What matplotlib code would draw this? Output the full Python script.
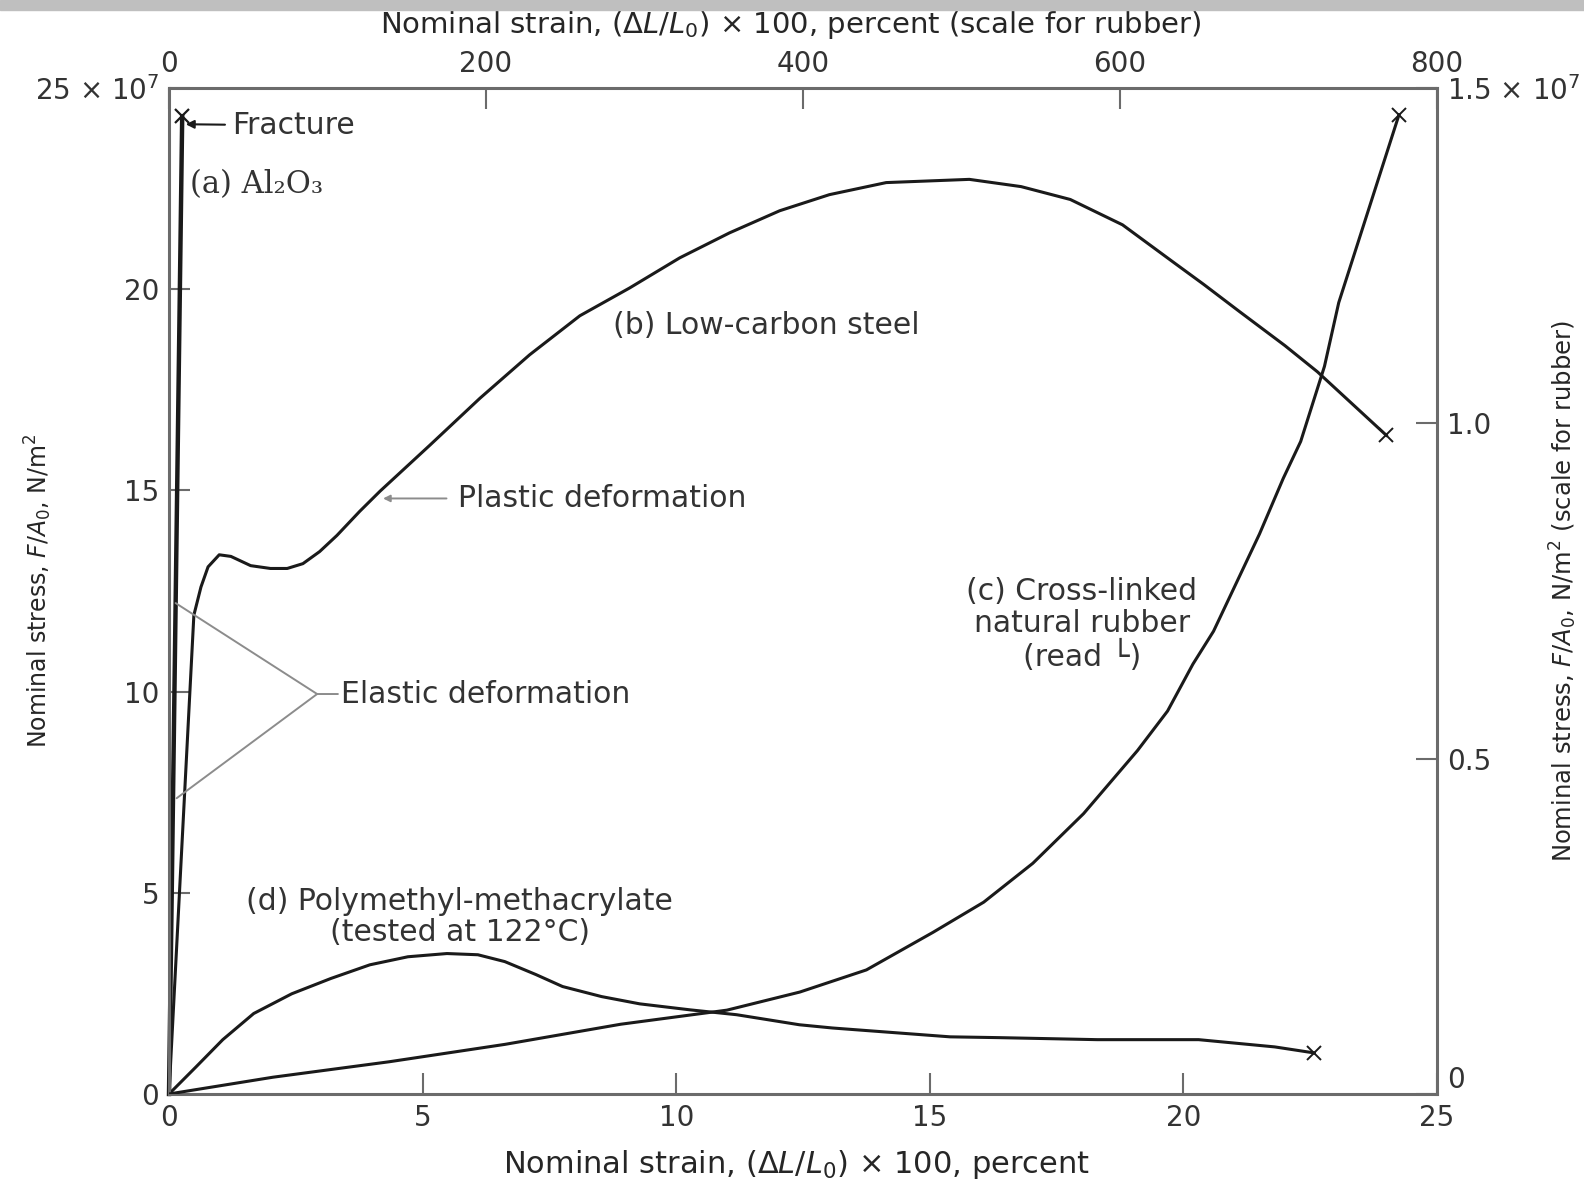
import matplotlib
matplotlib.use('Agg')
import matplotlib.pyplot as plt
from matplotlib.patches import Rectangle

# (a) Al2O3, bottom / left scales
al2o3_strain = [0, 0.26]
al2o3_stress = [0, 24.3]

# (b) low-carbon steel, bottom / left scales
steel_strain = [0, 0.49, 0.63, 0.77, 0.99, 1.22, 1.61, 2.0, 2.33, 2.64, 2.97, 3.31, 3.76, 4.16,
                5.14, 6.13, 7.11, 8.1, 9.08, 10.07, 11.05, 12.04, 13.02, 14.14, 15.78, 16.8,
                17.77, 18.8, 19.76, 20.4, 21.1, 22.0, 22.64, 24.0]
steel_stress = [0, 11.9, 12.6, 13.1, 13.4, 13.36, 13.13, 13.06, 13.06, 13.18, 13.48, 13.88, 14.48, 14.98,
                16.12, 17.29, 18.37, 19.34, 20.03, 20.78, 21.4, 21.95, 22.35, 22.65, 22.73, 22.55,
                22.23, 21.6, 20.71, 20.12, 19.45, 18.6, 17.95, 16.37]

# (c) cross-linked natural rubber, top / right scales
rubber_strain = [0, 65.6, 138.8, 212, 285, 352, 398, 440, 482, 514, 545, 577, 611, 630, 646,
                 659, 671, 688, 703, 714, 729, 738, 776]
rubber_stress = [0, 0.025, 0.048, 0.074, 0.104, 0.125, 0.152, 0.185, 0.241, 0.286, 0.344, 0.418,
                 0.512, 0.571, 0.641, 0.69, 0.75, 0.835, 0.918, 0.973, 1.085, 1.18, 1.46]

# (d) PMMA at 122 C, bottom / left scales
pmma_strain = [0, 0.53, 1.06, 1.67, 2.42, 3.19, 3.96, 4.71, 5.48, 6.09, 6.62, 7.23, 7.76, 8.53,
               9.28, 10.28, 11.19, 12.43, 13.08, 15.4, 16.37, 18.3, 20.3, 21.8, 22.58]
pmma_stress = [0, 0.67, 1.35, 2.0, 2.49, 2.87, 3.21, 3.41, 3.49, 3.46, 3.29, 2.97, 2.67, 2.42,
               2.24, 2.09, 1.97, 1.72, 1.64, 1.42, 1.4, 1.35, 1.35, 1.17, 1.02]

bottom_ticks = [0, 5, 10, 15, 20, 25]
left_ticks = [0, 5, 10, 15, 20, 25]
left_labels = ['0', '5', '10', '15', '20', r'25 × 10$^7$']
top_ticks = [0, 200, 400, 600, 800]
right_ticks = [0, 0.5, 1.0, 1.5]
right_labels = ['0', '0.5', '1.0', r'1.5 × 10$^7$']

ink = '0.1'
axis_grey = '0.42'

fig = plt.figure(figsize=(15.84, 11.8), dpi=100)
fig.patches.append(Rectangle((0, 1 - 10 / 1180), 1, 10 / 1180, transform=fig.transFigure,
                             color='0.75', zorder=0))

rect = [0.1067, 0.0729, 0.8005, 0.8525]
ax = fig.add_axes(rect)
ax.set_xlim(0, 25)
ax.set_ylim(0, 25)
ax.set_xticks(bottom_ticks)
ax.set_yticks(left_ticks)
ax.set_yticklabels(left_labels)
ax.tick_params(direction='in', length=15, width=1.5, color=axis_grey, labelsize=20,
               labelcolor='0.2', pad=7)
for s in ax.spines.values():
    s.set_color(axis_grey)
    s.set_linewidth(2.2)

ax.plot(al2o3_strain, al2o3_stress, color=ink, lw=3.2, clip_on=False)
ax.plot(al2o3_strain[-1:], al2o3_stress[-1:], 'x', color=ink, ms=10, mew=1.6, clip_on=False)
ax.plot(steel_strain, steel_stress, color=ink, lw=2.2, solid_joinstyle='round')
ax.plot(steel_strain[-1:], steel_stress[-1:], 'x', color=ink, ms=10, mew=1.4)
ax.plot(pmma_strain, pmma_stress, color=ink, lw=2.2, solid_joinstyle='round')
ax.plot(pmma_strain[-1:], pmma_stress[-1:], 'x', color=ink, ms=10, mew=1.4)

ax.set_xlabel(r'Nominal strain, $(\Delta L/L_0)$ × 100, percent', fontsize=22, color='0.15')
ax.xaxis.set_label_coords(0.4945, -0.054)
ax.set_ylabel(r'Nominal stress, $F/A_0$, N/m$^2$', fontsize=17, color='0.15')
ax.yaxis.set_label_coords(-0.0905, 0.5)

# rubber uses the top and right scales
ax2 = fig.add_axes(rect, frameon=False)
ax2.patch.set_visible(False)
ax2.xaxis.tick_top()
ax2.xaxis.set_label_position('top')
ax2.yaxis.tick_right()
ax2.yaxis.set_label_position('right')
ax2.set_xlim(0, 800)
ax2.set_ylim(0, 1.5)
ax2.set_xticks(top_ticks)
ax2.set_yticks(right_ticks)
ax2.set_yticklabels(right_labels)
ax2.tick_params(direction='in', length=15, width=1.5, color=axis_grey, labelsize=20,
                labelcolor='0.2', pad=7)
ax2.get_yticklabels()[0].set_va('bottom')
ax2.plot(rubber_strain, rubber_stress, color=ink, lw=2.2, solid_joinstyle='round')
ax2.plot(rubber_strain[-1:], rubber_stress[-1:], 'x', color=ink, ms=10, mew=1.4)

ax2.set_xlabel(r'Nominal strain, $(\Delta L/L_0)$ × 100, percent (scale for rubber)',
               fontsize=21, color='0.15')
ax2.xaxis.set_label_coords(0.49, 1.055)
ax2.set_ylabel(r'Nominal stress, $F/A_0$, N/m$^2$ (scale for rubber)', fontsize=17.5, color='0.15')
ax2.yaxis.set_label_coords(1.087, 0.5)

# annotations
fs = 21.5
tc = '0.2'
ax.annotate('Fracture', xy=(0.33, 24.1), xytext=(1.24, 24.07), va='center', ha='left',
            fontsize=fs, color=tc,
            arrowprops=dict(arrowstyle='-|>', color=ink, lw=1.5, shrinkA=3, shrinkB=0,
                            mutation_scale=12))
ax.text(0.41, 22.6, '(a) Al₂O₃', fontsize=22, color=tc, va='center', ha='left',
        family='DejaVu Serif')
ax.text(8.75, 19.1, '(b) Low-carbon steel', fontsize=fs, color=tc, va='center', ha='left')
ax.annotate('Plastic deformation', xy=(4.22, 14.8), xytext=(5.69, 14.8), va='center',
            ha='left', fontsize=fs, color=tc,
            arrowprops=dict(arrowstyle='-|>', color='0.55', lw=1.4, shrinkA=6, shrinkB=0,
                            mutation_scale=10))
ax.text(3.39, 9.94, 'Elastic deformation', fontsize=fs, color=tc, va='center', ha='left')
for end in [(0.13, 12.2), (0.15, 7.35)]:
    ax.annotate('', xy=end, xytext=(2.92, 9.94),
                arrowprops=dict(arrowstyle='-', color='0.55', lw=1.4, shrinkA=0, shrinkB=0))
ax.annotate('', xy=(2.92, 9.94), xytext=(3.33, 9.94),
            arrowprops=dict(arrowstyle='-', color='0.55', lw=1.4, shrinkA=0, shrinkB=0))
ax.text(18.0, 11.66, '(c) Cross-linked\nnatural rubber\n(read └)', fontsize=fs, color=tc,
        va='center', ha='center', multialignment='center', linespacing=1.1)
ax.text(5.73, 4.39, '(d) Polymethyl-methacrylate\n(tested at 122°C)', fontsize=fs, color=tc,
        va='center', ha='center', multialignment='center', linespacing=1.1)

fig.savefig('out.png', dpi=100)
